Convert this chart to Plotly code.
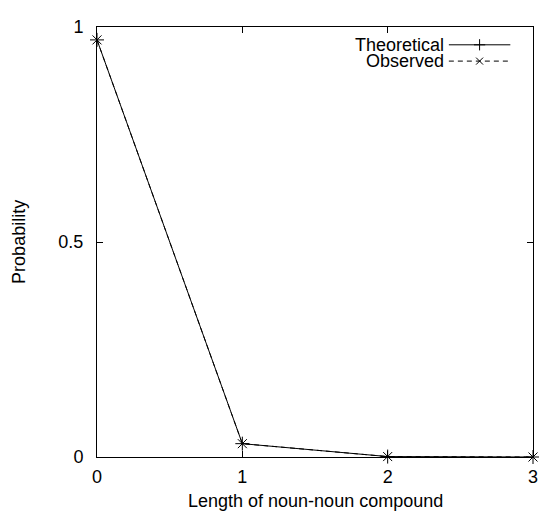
import plotly.graph_objects as go

# Data
lengths = [0, 1, 2, 3]
theoretical = [0.970, 0.031, 0.001, 0.0]
observed = [0.970, 0.031, 0.001, 0.0]

x_ticks = [0, 1, 2, 3]
x_tick_labels = ["0", "1", "2", "3"]
y_ticks = [0, 0.5, 1]
y_tick_labels = ["0", "0.5", "1"]

series_names = ["Theoretical", "Observed"]

FONT = "Liberation Sans, Arial, Helvetica, sans-serif"
FS = 18

fig = go.Figure()

fig.add_trace(go.Scatter(
    x=lengths, y=theoretical, mode="lines+markers", name=series_names[0],
    line=dict(color="black", width=1),
    marker=dict(symbol="cross-thin", size=10, line=dict(color="black", width=1)),
    showlegend=False, cliponaxis=False))
fig.add_trace(go.Scatter(
    x=lengths, y=observed, mode="lines+markers", name=series_names[1],
    line=dict(color="black", width=1, dash="5px,4px"),
    marker=dict(symbol="x-thin", size=9, line=dict(color="black", width=1)),
    showlegend=False, cliponaxis=False))

# gnuplot-style key (sample to the right of the text), on an overlay 0..1 axis
key_x0, key_x1 = 0.807, 0.948
key_text_x = 0.800
key_y = [0.9586, 0.9207]
styles = [dict(dash="solid", sym="cross-thin", size=8),
          dict(dash="5px,4px", sym="x-thin", size=7)]
for name, ky, st in zip(series_names, key_y, styles):
    fig.add_trace(go.Scatter(
        x=[key_x0, key_x1], y=[ky, ky], mode="lines", xaxis="x2", yaxis="y2",
        line=dict(color="black", width=1, dash=st["dash"]), showlegend=False,
        hoverinfo="skip"))
    fig.add_trace(go.Scatter(
        x=[(key_x0 + key_x1) / 2], y=[ky], mode="markers", xaxis="x2", yaxis="y2",
        marker=dict(symbol=st["sym"], size=st["size"], line=dict(color="black", width=1)),
        showlegend=False, hoverinfo="skip"))
    fig.add_annotation(text=name, xref="paper", yref="paper", x=key_text_x, y=ky,
                       xanchor="right", yanchor="middle", showarrow=False,
                       font=dict(family=FONT, size=FS, color="black"))

axis_common = dict(
    showline=True, linecolor="black", linewidth=1, mirror="ticks",
    ticks="inside", ticklen=6, tickwidth=1, tickcolor="black",
    showgrid=False, zeroline=False,
    tickfont=dict(family=FONT, size=FS, color="black"),
)

# page body has an 8px margin; the figure is sized to fill the rest of the window
fig.update_layout(
    width=539, height=503,
    margin=dict(l=89, r=9, t=14, b=54),
    paper_bgcolor="white", plot_bgcolor="white",
    xaxis=dict(range=[0, 3], tickvals=x_ticks, ticktext=x_tick_labels,
               ticklabelstandoff=3, **axis_common),
    yaxis=dict(range=[0, 1], tickvals=y_ticks, ticktext=y_tick_labels,
               ticklabelstandoff=9, **axis_common),
    xaxis2=dict(range=[0, 1], overlaying="x", visible=False),
    yaxis2=dict(range=[0, 1], overlaying="y", visible=False),
    showlegend=False,
)

fig.add_annotation(text="Length of noun-noun compound", xref="paper", yref="paper",
                   x=0.5, y=-(502 - 457) / 435, xanchor="center", yanchor="middle",
                   showarrow=False, font=dict(family=FONT, size=FS, color="black"))
fig.add_annotation(text="Probability", xref="paper", yref="paper",
                   x=-(97 - 18) / 441, y=0.5, xanchor="center", yanchor="middle",
                   textangle=-90, showarrow=False,
                   font=dict(family=FONT, size=FS, color="black"))

fig.write_html("out.html")
